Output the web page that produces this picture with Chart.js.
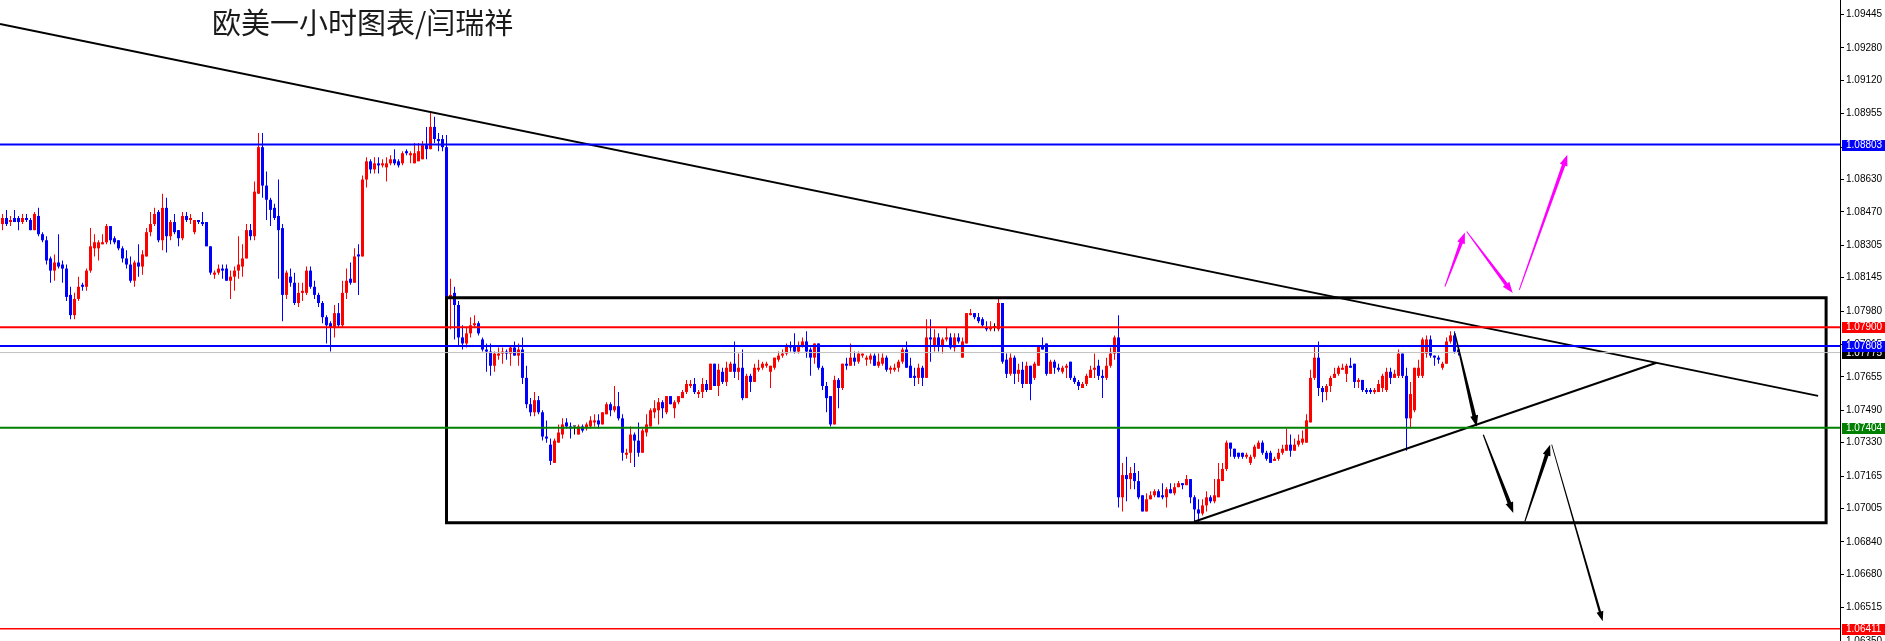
<!DOCTYPE html>
<html>
<head>
<meta charset="utf-8">
<title>EURUSD H1</title>
<script src="https://cdn.jsdelivr.net/npm/chart.js@4.4.1/dist/chart.umd.min.js"></script>
<style>
  html, body { margin: 0; padding: 0; background: #fff; overflow: hidden; }
  #wrap { position: relative; width: 1885px; height: 641px; }
</style>
</head>
<body>
<div id="wrap"><canvas id="eurusdChart"></canvas></div>
<script>
// hourly candles, bar index 0..364
const opens = [
  1.0841,1.0844,1.0842,1.0844,1.0844,1.0842,1.0844,1.0843,1.0838,1.0845,
  1.0836,1.0833,1.0824,1.0818,1.0822,1.0821,1.0819,1.0806,1.0796,1.0804,
  1.0811,1.0810,1.0818,1.0829,1.0829,1.0831,1.0832,1.0840,1.0834,1.0833,
  1.0829,1.0824,1.0821,1.0813,1.0822,1.0820,1.0825,1.0837,1.0841,1.0847,
  1.0833,1.0849,1.0835,1.0842,1.0838,1.0834,1.0845,1.0843,1.0837,1.0843,
  1.0842,1.0842,1.0830,1.0816,1.0817,1.0819,1.0819,1.0813,1.0815,1.0818,
  1.0820,1.0824,1.0838,1.0835,1.0856,1.0879,1.0860,1.0853,1.0849,1.0845,
  1.0839,1.0806,1.0815,1.0812,1.0802,1.0807,1.0807,1.0818,1.0810,1.0806,
  1.0802,1.0795,1.0792,1.0790,1.0797,1.0791,1.0807,1.0814,1.0812,1.0826,
  1.0825,1.0863,1.0872,1.0868,1.0871,1.0870,1.0869,1.0871,1.0873,1.0872,
  1.0871,1.0877,1.0875,1.0871,1.0872,1.0873,1.0880,1.0878,1.0889,1.0883,
  1.0883,1.0879,1.0805,1.0807,1.0801,1.0785,1.0782,1.0787,1.0791,1.0792,
  1.0784,1.0779,1.0778,1.0771,1.0776,1.0777,1.0778,1.0777,1.0780,1.0776,
  1.0779,1.0765,1.0752,1.0748,1.0754,1.0748,1.0736,1.0732,1.0723,1.0733,
  1.0737,1.0743,1.0741,1.0741,1.0737,1.0741,1.0740,1.0741,1.0743,1.0744,
  1.0742,1.0747,1.0752,1.0749,1.0751,1.0745,1.0727,1.0728,1.0737,1.0734,
  1.0728,1.0738,1.0741,1.0748,1.0749,1.0753,1.0748,1.0756,1.0750,1.0753,
  1.0755,1.0758,1.0761,1.0762,1.0757,1.0758,1.0762,1.0759,1.0772,1.0761,
  1.0768,1.0763,1.0768,1.0772,1.0768,1.0770,1.0755,1.0766,1.0763,1.0769,
  1.0770,1.0771,1.0768,1.0770,1.0774,1.0776,1.0777,1.0781,1.0781,1.0778,
  1.0781,1.0783,1.0779,1.0775,1.0782,1.0770,1.0761,1.0756,1.0742,1.0764,
  1.0760,1.0772,1.0771,1.0775,1.0773,1.0776,1.0774,1.0774,1.0776,1.0771,
  1.0772,1.0775,1.0769,1.0769,1.0770,1.0773,1.0779,1.0771,1.0766,1.0765,
  1.0770,1.0765,1.0785,1.0781,1.0785,1.0781,1.0784,1.0785,1.0780,1.0785,
  1.0775,1.0782,1.0796,1.0797,1.0795,1.0794,1.0790,1.0789,1.0790,1.0789,
  1.0802,1.0774,1.0767,1.0775,1.0767,1.0769,1.0762,1.0771,1.0765,1.0771,
  1.0781,1.0782,1.0767,1.0773,1.0770,1.0768,1.0770,1.0773,1.0765,1.0763,
  1.0760,1.0762,1.0765,1.0769,1.0771,1.0766,1.0765,1.0771,1.0777,1.0785,
  1.0706,1.0717,1.0715,1.0718,1.0714,1.0707,1.0699,1.0705,1.0707,1.0709,
  1.0707,1.0706,1.0710,1.0708,1.0711,1.0713,1.0712,1.0715,1.0706,1.0700,
  1.0698,1.0702,1.0706,1.0704,1.0706,1.0714,1.0720,1.0733,1.0730,1.0728,
  1.0728,1.0726,1.0723,1.0726,1.0730,1.0733,1.0728,1.0728,1.0724,1.0725,
  1.0728,1.0729,1.0732,1.0729,1.0732,1.0733,1.0733,1.0743,1.0765,1.0775,
  1.0760,1.0758,1.0761,1.0765,1.0767,1.0769,1.0767,1.0771,1.0772,1.0763,
  1.0764,1.0759,1.0759,1.0758,1.0758,1.0760,1.0759,1.0768,1.0765,1.0766,
  1.0777,1.0766,1.0745,1.0749,1.0766,1.0766,1.0777,1.0784,1.0776,1.0775,
  1.0770,1.0772,1.0783,1.0786,1.0779
];
const highs = [
  1.0846,1.0848,1.0845,1.0848,1.0845,1.0846,1.0846,1.0844,1.0847,1.0849,
  1.0837,1.0835,1.0825,1.0826,1.0836,1.0823,1.0821,1.0810,1.0807,1.0815,
  1.0812,1.0819,1.0839,1.0836,1.0833,1.0836,1.0841,1.0840,1.0835,1.0833,
  1.0830,1.0828,1.0825,1.0823,1.0831,1.0828,1.0839,1.0847,1.0849,1.0848,
  1.0856,1.0854,1.0843,1.0846,1.0838,1.0847,1.0847,1.0846,1.0843,1.0843,
  1.0847,1.0842,1.0830,1.0818,1.0821,1.0821,1.0821,1.0818,1.0820,1.0835,
  1.0831,1.0841,1.0841,1.0862,1.0886,1.0886,1.0867,1.0854,1.0851,1.0863,
  1.0841,1.0818,1.0819,1.0817,1.0812,1.0812,1.0820,1.0820,1.0813,1.0807,
  1.0803,1.0796,1.0793,1.0801,1.0802,1.0813,1.0819,1.0822,1.0829,1.0831,
  1.0865,1.0874,1.0873,1.0874,1.0874,1.0873,1.0874,1.0875,1.0878,1.0873,
  1.0877,1.0878,1.0877,1.0881,1.0881,1.0882,1.0889,1.0896,1.0894,1.0886,
  1.0885,1.0885,1.0814,1.0810,1.0803,1.0791,1.0790,1.0795,1.0796,1.0793,
  1.0785,1.0782,1.0782,1.0778,1.0780,1.0780,1.0779,1.0781,1.0783,1.0782,
  1.0785,1.0771,1.0755,1.0758,1.0756,1.0749,1.0744,1.0735,1.0735,1.0742,
  1.0745,1.0745,1.0743,1.0741,1.0742,1.0742,1.0743,1.0746,1.0747,1.0747,
  1.0748,1.0753,1.0753,1.0761,1.0758,1.0747,1.0730,1.0741,1.0738,1.0743,
  1.0740,1.0747,1.0750,1.0754,1.0755,1.0754,1.0756,1.0756,1.0754,1.0756,
  1.0759,1.0764,1.0764,1.0765,1.0759,1.0765,1.0764,1.0772,1.0772,1.0772,
  1.0770,1.0773,1.0773,1.0783,1.0777,1.0779,1.0767,1.0767,1.0772,1.0774,
  1.0773,1.0773,1.0771,1.0775,1.0778,1.0779,1.0782,1.0783,1.0787,1.0783,
  1.0785,1.0788,1.0780,1.0782,1.0782,1.0771,1.0763,1.0756,1.0766,1.0765,
  1.0772,1.0775,1.0782,1.0778,1.0778,1.0777,1.0776,1.0777,1.0777,1.0777,
  1.0777,1.0776,1.0771,1.0772,1.0774,1.0780,1.0783,1.0775,1.0770,1.0772,
  1.0771,1.0794,1.0794,1.0789,1.0787,1.0785,1.0790,1.0787,1.0787,1.0787,
  1.0785,1.0797,1.0799,1.0797,1.0797,1.0795,1.0793,1.0793,1.0792,1.0804,
  1.0802,1.0777,1.0777,1.0776,1.0772,1.0773,1.0773,1.0771,1.0773,1.0781,
  1.0785,1.0782,1.0774,1.0774,1.0772,1.0771,1.0772,1.0773,1.0766,1.0764,
  1.0763,1.0767,1.0771,1.0777,1.0774,1.0769,1.0775,1.0780,1.0786,1.0796,
  1.0723,1.0726,1.0721,1.0723,1.0719,1.0707,1.0708,1.0709,1.0710,1.0710,
  1.0713,1.0711,1.0713,1.0713,1.0714,1.0713,1.0717,1.0715,1.0707,1.0705,
  1.0705,1.0709,1.0707,1.0715,1.0723,1.0723,1.0734,1.0733,1.0730,1.0728,
  1.0728,1.0728,1.0727,1.0732,1.0734,1.0734,1.0729,1.0729,1.0726,1.0730,
  1.0732,1.0740,1.0737,1.0735,1.0737,1.0739,1.0747,1.0769,1.0781,1.0783,
  1.0761,1.0762,1.0766,1.0770,1.0771,1.0772,1.0772,1.0775,1.0772,1.0765,
  1.0764,1.0760,1.0760,1.0760,1.0764,1.0767,1.0770,1.0770,1.0769,1.0779,
  1.0777,1.0770,1.0763,1.0770,1.0774,1.0785,1.0786,1.0786,1.0776,1.0776,
  1.0773,1.0785,1.0788,1.0788,1.0780
];
const lows = [
  1.0838,1.0840,1.0840,1.0842,1.0838,1.0841,1.0842,1.0838,1.0838,1.0835,
  1.0832,1.0821,1.0812,1.0813,1.0819,1.0812,1.0803,1.0794,1.0794,1.0803,
  1.0808,1.0808,1.0817,1.0825,1.0823,1.0831,1.0831,1.0831,1.0831,1.0828,
  1.0822,1.0819,1.0812,1.0810,1.0815,1.0816,1.0825,1.0835,1.0840,1.0832,
  1.0828,1.0827,1.0833,1.0836,1.0830,1.0833,1.0842,1.0841,1.0836,1.0841,
  1.0840,1.0830,1.0816,1.0814,1.0816,1.0814,1.0813,1.0804,1.0808,1.0814,
  1.0815,1.0824,1.0833,1.0833,1.0856,1.0854,1.0843,1.0840,1.0843,1.0814,
  1.0793,1.0804,1.0810,1.0801,1.0800,1.0803,1.0806,1.0809,1.0804,1.0800,
  1.0792,1.0782,1.0778,1.0785,1.0790,1.0790,1.0804,1.0811,1.0812,1.0806,
  1.0825,1.0859,1.0866,1.0866,1.0866,1.0869,1.0862,1.0870,1.0870,1.0869,
  1.0870,1.0875,1.0871,1.0871,1.0872,1.0873,1.0873,1.0878,1.0881,1.0877,
  1.0877,1.0805,1.0789,1.0784,1.0781,1.0779,1.0780,1.0785,1.0790,1.0786,
  1.0778,1.0768,1.0766,1.0768,1.0774,1.0772,1.0774,1.0771,1.0776,1.0771,
  1.0762,1.0750,1.0746,1.0746,1.0747,1.0734,1.0733,1.0722,1.0723,1.0733,
  1.0735,1.0740,1.0735,1.0737,1.0737,1.0738,1.0739,1.0740,1.0741,1.0740,
  1.0742,1.0747,1.0746,1.0748,1.0744,1.0724,1.0725,1.0723,1.0721,1.0726,
  1.0728,1.0736,1.0741,1.0745,1.0742,1.0745,1.0747,1.0752,1.0745,1.0752,
  1.0755,1.0757,1.0760,1.0757,1.0755,1.0755,1.0758,1.0759,1.0761,1.0756,
  1.0762,1.0761,1.0768,1.0765,1.0764,1.0754,1.0755,1.0758,1.0763,1.0768,
  1.0769,1.0770,1.0760,1.0769,1.0773,1.0775,1.0776,1.0778,1.0777,1.0777,
  1.0780,1.0775,1.0766,1.0772,1.0769,1.0759,1.0748,1.0741,1.0742,1.0750,
  1.0759,1.0769,1.0771,1.0771,1.0772,1.0775,1.0771,1.0772,1.0771,1.0770,
  1.0771,1.0768,1.0767,1.0768,1.0768,1.0772,1.0770,1.0765,1.0761,1.0762,
  1.0761,1.0765,1.0773,1.0778,1.0778,1.0777,1.0783,1.0779,1.0778,1.0782,
  1.0775,1.0782,1.0796,1.0794,1.0792,1.0790,1.0788,1.0788,1.0788,1.0788,
  1.0772,1.0765,1.0766,1.0762,1.0763,1.0760,1.0762,1.0754,1.0764,1.0771,
  1.0779,1.0766,1.0767,1.0767,1.0768,1.0767,1.0765,1.0764,1.0762,1.0759,
  1.0760,1.0761,1.0765,1.0765,1.0764,1.0755,1.0764,1.0770,1.0774,1.0701,
  1.0699,1.0704,1.0710,1.0710,1.0705,1.0699,1.0699,1.0705,1.0706,1.0706,
  1.0705,1.0701,1.0708,1.0707,1.0711,1.0710,1.0712,1.0703,1.0693,1.0693,
  1.0697,1.0699,1.0703,1.0703,1.0706,1.0714,1.0719,1.0726,1.0725,1.0725,
  1.0725,1.0725,1.0722,1.0725,1.0730,1.0727,1.0724,1.0723,1.0724,1.0724,
  1.0727,1.0729,1.0726,1.0729,1.0731,1.0732,1.0733,1.0743,1.0764,1.0756,
  1.0753,1.0754,1.0758,1.0765,1.0766,1.0769,1.0763,1.0770,1.0760,1.0760,
  1.0758,1.0757,1.0757,1.0757,1.0758,1.0758,1.0758,1.0762,1.0765,1.0765,
  1.0765,1.0729,1.0740,1.0748,1.0765,1.0765,1.0775,1.0775,1.0771,1.0772,
  1.0769,1.0772,1.0782,1.0777,1.0776
];
const closes = [
  1.0844,1.0841,1.0843,1.0842,1.0842,1.0844,1.0843,1.0838,1.0846,1.0836,
  1.0833,1.0823,1.0818,1.0822,1.0820,1.0819,1.0805,1.0796,1.0804,1.0810,
  1.0810,1.0818,1.0830,1.0832,1.0832,1.0832,1.0840,1.0833,1.0832,1.0829,
  1.0824,1.0821,1.0813,1.0822,1.0820,1.0826,1.0837,1.0841,1.0846,1.0833,
  1.0849,1.0835,1.0842,1.0837,1.0834,1.0845,1.0843,1.0844,1.0843,1.0842,
  1.0841,1.0830,1.0817,1.0817,1.0819,1.0818,1.0813,1.0815,1.0818,1.0821,
  1.0824,1.0838,1.0835,1.0857,1.0879,1.0860,1.0853,1.0848,1.0844,1.0838,
  1.0806,1.0817,1.0812,1.0802,1.0807,1.0808,1.0818,1.0810,1.0806,1.0802,
  1.0795,1.0791,1.0790,1.0797,1.0791,1.0807,1.0813,1.0812,1.0825,1.0825,
  1.0863,1.0872,1.0868,1.0871,1.0870,1.0871,1.0871,1.0873,1.0871,1.0870,
  1.0876,1.0876,1.0876,1.0876,1.0877,1.0880,1.0878,1.0889,1.0883,1.0882,
  1.0879,1.0805,1.0806,1.0801,1.0785,1.0782,1.0787,1.0791,1.0792,1.0787,
  1.0779,1.0778,1.0771,1.0777,1.0777,1.0778,1.0777,1.0780,1.0776,1.0779,
  1.0765,1.0752,1.0748,1.0754,1.0748,1.0736,1.0735,1.0724,1.0734,1.0738,
  1.0742,1.0741,1.0740,1.0741,1.0741,1.0739,1.0742,1.0744,1.0744,1.0742,
  1.0748,1.0752,1.0749,1.0751,1.0745,1.0728,1.0728,1.0737,1.0734,1.0728,
  1.0739,1.0742,1.0749,1.0750,1.0753,1.0750,1.0756,1.0752,1.0753,1.0756,
  1.0758,1.0762,1.0762,1.0758,1.0758,1.0762,1.0759,1.0772,1.0761,1.0769,
  1.0763,1.0770,1.0772,1.0768,1.0770,1.0755,1.0766,1.0763,1.0770,1.0770,
  1.0772,1.0772,1.0771,1.0775,1.0776,1.0777,1.0781,1.0780,1.0778,1.0781,
  1.0783,1.0778,1.0775,1.0782,1.0770,1.0761,1.0755,1.0742,1.0764,1.0760,
  1.0772,1.0771,1.0775,1.0773,1.0777,1.0777,1.0775,1.0776,1.0771,1.0773,
  1.0775,1.0769,1.0770,1.0770,1.0773,1.0779,1.0770,1.0765,1.0765,1.0770,
  1.0765,1.0785,1.0784,1.0785,1.0781,1.0784,1.0785,1.0780,1.0785,1.0783,
  1.0783,1.0797,1.0797,1.0795,1.0793,1.0791,1.0789,1.0790,1.0790,1.0802,
  1.0773,1.0767,1.0775,1.0767,1.0769,1.0762,1.0771,1.0762,1.0772,1.0781,
  1.0779,1.0767,1.0773,1.0770,1.0769,1.0770,1.0771,1.0765,1.0763,1.0761,
  1.0762,1.0766,1.0769,1.0770,1.0766,1.0765,1.0771,1.0777,1.0785,1.0706,
  1.0717,1.0715,1.0718,1.0714,1.0706,1.0699,1.0705,1.0707,1.0709,1.0706,
  1.0706,1.0710,1.0708,1.0711,1.0713,1.0712,1.0715,1.0706,1.0700,1.0698,
  1.0702,1.0706,1.0704,1.0707,1.0715,1.0720,1.0733,1.0730,1.0726,1.0726,
  1.0726,1.0727,1.0726,1.0731,1.0733,1.0728,1.0725,1.0723,1.0725,1.0728,
  1.0730,1.0732,1.0729,1.0732,1.0734,1.0735,1.0744,1.0765,1.0775,1.0760,
  1.0758,1.0761,1.0765,1.0767,1.0770,1.0770,1.0771,1.0770,1.0763,1.0764,
  1.0759,1.0758,1.0758,1.0759,1.0762,1.0766,1.0768,1.0765,1.0767,1.0777,
  1.0766,1.0745,1.0757,1.0770,1.0770,1.0784,1.0784,1.0776,1.0775,1.0774,
  1.0772,1.0783,1.0786,1.0778,1.07775
];

// right price scale
const yTicks = [1.09445, 1.09280, 1.09120, 1.08955, 1.08790, 1.08630, 1.08470, 1.08305,
  1.08145, 1.07980, 1.07815, 1.07655, 1.07490, 1.07330, 1.07165, 1.07005, 1.06840,
  1.06680, 1.06515, 1.06350];
const levels = [1.08803, 1.07900, 1.07808, 1.07404, 1.06411];
const lastPrice = 1.07775;

// drawn objects: [bar index, price]
const trendDown = [[-0.625, 1.09399], [453.9, 1.07561]];
const trendUp = [[297.9, 1.06939], [413.5, 1.07725]];
const boxCorners = [[111, 1.08046], [455.9, 1.06934]];
const upArrows = [
  [[360.6, 1.08101], [365.6, 1.08368]],
  [[366.05, 1.08373], [377.55, 1.08069]],
  [[379.2, 1.08085], [391.2, 1.08752]]
];
const downArrows = [
  [[363.1, 1.07871], [368.55, 1.07410]],
  [[370.2, 1.07369], [377.7, 1.06982]],
  [[380.6, 1.06941], [386.9, 1.07320]],
  [[387.3, 1.07320], [400.05, 1.06447]]
];

const X_MIN = -0.625, X_MAX = 459.375;
const levelColors = ['#0000ff', '#ff0000', '#0000ff', '#008000', '#ff0000'];
const levelWidths = [2, 2, 2, 2, 1.5];
const candleColors = opens.map((o, i) => closes[i] > o ? '#ff0000' : (closes[i] < o ? '#0000ff' : '#000000'));

function arrow(ctx, x0, y0, x1, y1, color, w0, w1, headLen, headW) {
  const len = Math.hypot(x1 - x0, y1 - y0);
  const ux = (x1 - x0) / len, uy = (y1 - y0) / len;
  const nx = -uy, ny = ux;
  const bx = x1 - ux * headLen, by = y1 - uy * headLen;
  ctx.save();
  ctx.fillStyle = color;
  ctx.beginPath();
  ctx.moveTo(x0 + nx * w0, y0 + ny * w0);
  ctx.lineTo(bx + nx * w1, by + ny * w1);
  ctx.lineTo(bx + nx * headW, by + ny * headW);
  ctx.lineTo(x1, y1);
  ctx.lineTo(bx - nx * headW, by - ny * headW);
  ctx.lineTo(bx - nx * w1, by - ny * w1);
  ctx.lineTo(x0 - nx * w0, y0 - ny * w0);
  ctx.closePath();
  ctx.fill();
  ctx.restore();
}

const overlay = {
  id: 'overlay',
  afterDatasetsDraw(chart) {
    const { ctx, scales: { x, y } } = chart;
    const px = p => [x.getPixelForValue(p[0]), y.getPixelForValue(p[1])];
    upArrows.forEach(a => {
      const [x0, y0] = px(a[0]), [x1, y1] = px(a[1]);
      arrow(ctx, x0, y0, x1, y1, '#ff00ff', 0.5, 1.8, 11, 4);
    });
    downArrows.forEach((a, k) => {
      const [x0, y0] = px(a[0]), [x1, y1] = px(a[1]);
      if (k === 3) arrow(ctx, x0, y0, x1, y1, '#000000', 0.4, 1.2, 10, 3.5);
      else arrow(ctx, x0, y0, x1, y1, '#000000', 0.6, 1.9, 11, 4);
    });
  },
  afterDraw(chart) {
    const { ctx, chartArea, scales: { y } } = chart;
    // current-price tag first so the blue 1.07808 tag sits over it
    const tags = [[lastPrice, '#000000']].concat(levels.map((v, i) => [v, levelColors[i]]));
    ctx.save();
    ctx.font = '10px "Liberation Sans", Arial, sans-serif';
    ctx.textBaseline = 'middle';
    tags.forEach(([v, c]) => {
      const py = Math.round(y.getPixelForValue(v));
      ctx.fillStyle = c;
      ctx.fillRect(chartArea.right + 2, py - 5, 43, 11);
      ctx.fillStyle = '#ffffff';
      ctx.fillText(v.toFixed(5), chartArea.right + 6, py + 0.5);
    });
    ctx.fillStyle = '#1a1a1a';
    ctx.font = '29px "Noto Sans CJK SC", sans-serif';
    ctx.fillText('欧美一小时图表/闫瑞祥', 212, 23);
    ctx.restore();
  }
};

function hline(v, color, width) {
  return {
    type: 'line', data: [{ x: X_MIN, y: v }, { x: X_MAX, y: v }],
    borderColor: color, borderWidth: width, pointRadius: 0, order: 0
  };
}

const datasets = [
  {
    type: 'bar', grouped: false, order: 3,
    data: lows.map((l, i) => ({ x: i, y: [l, highs[i]] })),
    backgroundColor: candleColors, barThickness: 1, inflateAmount: 0
  },
  {
    type: 'bar', grouped: false, order: 2,
    data: opens.map((o, i) => ({ x: i, y: [o, closes[i]] })),
    backgroundColor: candleColors, barThickness: 3, minBarLength: 1, inflateAmount: 0
  },
  hline(lastPrice, '#c0c0c0', 1)
];
levels.forEach((v, i) => datasets.push(hline(v, levelColors[i], levelWidths[i])));
datasets.push({
  type: 'line', order: 0, pointRadius: 0, borderColor: '#000', borderWidth: 2,
  data: trendDown.map(p => ({ x: p[0], y: p[1] }))
});
datasets.push({
  type: 'line', order: 0, pointRadius: 0, borderColor: '#000', borderWidth: 2,
  data: trendUp.map(p => ({ x: p[0], y: p[1] }))
});
const [c0, c1] = boxCorners;
datasets.push({
  type: 'line', order: 0, pointRadius: 0, borderColor: '#000', borderWidth: 3,
  borderJoinStyle: 'miter', borderCapStyle: 'square',
  data: [[c0[0], c0[1]], [c1[0], c0[1]], [c1[0], c1[1]], [c0[0], c1[1]], [c0[0], c0[1]]].map(p => ({ x: p[0], y: p[1] }))
});

new Chart(document.getElementById('eurusdChart'), {
  type: 'bar',
  data: { datasets },
  options: {
    responsive: true,
    maintainAspectRatio: false,
    animation: false,
    devicePixelRatio: 1,
    events: [],
    layout: { padding: 0, autoPadding: false },
    plugins: { legend: { display: false }, tooltip: { enabled: false } },
    scales: {
      x: { type: 'linear', min: X_MIN, max: X_MAX, offset: false, display: false },
      y: {
        position: 'right', min: 1.0635, max: 1.09517,
        afterBuildTicks: s => { s.ticks = yTicks.map(v => ({ value: v })); },
        afterFit: s => { s.width = 45; s.paddingTop = 0; s.paddingBottom = 0; },
        ticks: {
          autoSkip: false, padding: 2, color: '#000',
          font: { family: '"Liberation Sans", Arial, sans-serif', size: 10 },
          callback: v => Number(v).toFixed(5)
        },
        grid: { drawOnChartArea: false, drawTicks: true, tickLength: 4, color: '#000' },
        border: { display: true, color: '#000', width: 1 }
      }
    }
  },
  plugins: [overlay]
});
</script>
</body>
</html>
